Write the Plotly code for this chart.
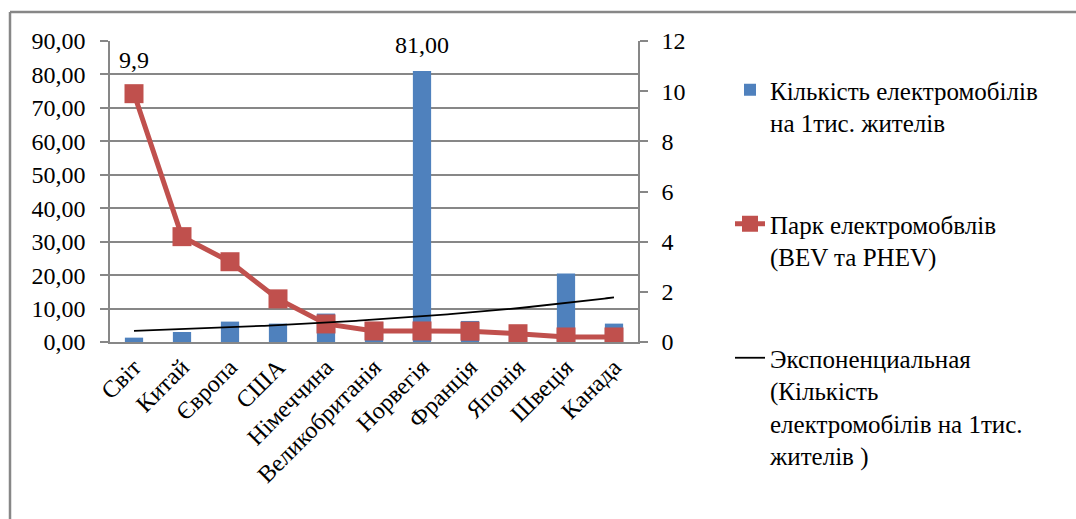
import numpy as np
import plotly.graph_objects as go

# Countries / regions on the category axis
categories = ["Світ", "Китай", "Європа", "США", "Німеччина", "Великобританія",
              "Норвегія", "Франція", "Японія", "Швеція", "Канада"]

# Electric cars per 1000 inhabitants (left axis)
ev_per_1000 = [1.3, 3.0, 6.1, 5.5, 8.5, 6.0, 81.0, 6.3, 3.0, 20.5, 5.5]

# Electric car stock, BEV + PHEV (right axis)
ev_stock = [9.9, 4.2, 3.2, 1.72, 0.72, 0.44, 0.44, 0.43, 0.33, 0.2, 0.2]

# Value labels shown on the chart (index into the series)
stock_label_idx = 0
density_label_idx = 6

BLUE = "#4F81BD"
RED = "#C0504D"
GRAY = "#878787"
FONT = "'Liberation Serif', 'Times New Roman', 'DejaVu Serif', serif"

x_pos = list(range(len(categories)))

# Exponential trendline of the bar series, fitted like a spreadsheet does:
# ln(y) = ln(a) + b * n, with n = 1..N
n = np.arange(1, len(ev_per_1000) + 1)
b, ln_a = np.polyfit(n, np.log(ev_per_1000), 1)
n_fine = np.linspace(1, len(ev_per_1000), 200)
trend_y = np.exp(ln_a + b * n_fine)
trend_x = n_fine - 1

fig = go.Figure()

fig.add_trace(go.Bar(
    x=x_pos, y=ev_per_1000, width=0.38,
    marker=dict(color=BLUE, line=dict(width=0)),
    name="Кількість електромобілів<br>на 1тис. жителів",
    legendgroup="a", yaxis="y",
))

fig.add_trace(go.Scatter(
    x=x_pos, y=ev_stock, mode="lines+markers",
    line=dict(color=RED, width=5),
    marker=dict(symbol="square", size=19, color=RED, line=dict(width=0)),
    name="Парк електромобвлів<br>(BEV та PHEV)",
    legendgroup="b", yaxis="y2",
))

fig.add_trace(go.Scatter(
    x=trend_x, y=trend_y, mode="lines",
    line=dict(color="black", width=1.8),
    name="Экспоненциальная<br>(Кількість<br>електромобілів на 1тис.<br>жителів )",
    legendgroup="c", yaxis="y3",
))


def fmt(v, digits):
    return f"{v:.{digits}f}".replace(".", ",")


annotations = [
    dict(x=x_pos[stock_label_idx], y=ev_stock[stock_label_idx], xref="x", yref="y2",
         text=fmt(ev_stock[stock_label_idx], 1), showarrow=False,
         yanchor="bottom", yshift=19, font=dict(family=FONT, size=24, color="black")),
    dict(x=x_pos[density_label_idx], y=ev_per_1000[density_label_idx], xref="x", yref="y",
         text=fmt(ev_per_1000[density_label_idx], 2), showarrow=False,
         yanchor="bottom", yshift=11, font=dict(family=FONT, size=24, color="black")),
]

# Chart-area frame
L, R, T, B, W, H = 110, 438, 41, 177, 1076, 519
pw, ph = W - L - R, H - T - B


def px_x(p):
    return (p - L) / pw


def px_y(p):
    return (H - B - p) / ph


shapes = [
    dict(type="line", xref="paper", yref="paper", x0=px_x(10), x1=px_x(1080),
         y0=px_y(12), y1=px_y(12), line=dict(color=GRAY, width=2.5)),
    dict(type="line", xref="paper", yref="paper", x0=px_x(10), x1=px_x(10),
         y0=px_y(12), y1=px_y(525), line=dict(color=GRAY, width=2.5)),
]

fig.update_layout(
    width=W, height=H,
    margin=dict(l=L, r=R, t=T, b=B, autoexpand=False),
    paper_bgcolor="white", plot_bgcolor="white",
    separators=", ",
    font=dict(family=FONT, size=24, color="black"),
    showlegend=True,
    legend=dict(
        x=px_x(730), y=px_y(67), xanchor="left", yanchor="top",
        font=dict(family=FONT, size=25, color="black"),
        tracegroupgap=66, valign="top", bgcolor="rgba(0,0,0,0)",
        maxheight=500,
    ),
    xaxis=dict(
        range=[-0.5, len(categories) - 0.5],
        tickmode="array", tickvals=x_pos, ticktext=categories,
        tickangle=-45, ticks="", showgrid=False,
        showline=True, linecolor=GRAY, linewidth=1.5,
        tickfont=dict(family=FONT, size=24, color="black"),
    ),
    yaxis=dict(
        range=[0, 90], dtick=10, tickformat=".2f",
        ticks="outside", ticklen=8, tickcolor=GRAY, tickwidth=1.5,
        ticklabelstandoff=10,
        showline=True, linecolor=GRAY, linewidth=1.5,
        showgrid=True, gridcolor=GRAY, gridwidth=1.5, zeroline=False,
        tickfont=dict(family=FONT, size=24, color="black"),
    ),
    yaxis2=dict(
        range=[0, 12], dtick=2, overlaying="y", side="right",
        ticks="outside", ticklen=8, tickcolor=GRAY, tickwidth=1.5,
        ticklabelstandoff=9,
        showline=True, linecolor=GRAY, linewidth=1.5,
        showgrid=False, zeroline=False,
        tickfont=dict(family=FONT, size=24, color="black"),
    ),
    yaxis3=dict(range=[0, 90], overlaying="y", visible=False),
    annotations=annotations,
    shapes=shapes,
    bargap=0.6,
)

fig.write_html("out.html")
